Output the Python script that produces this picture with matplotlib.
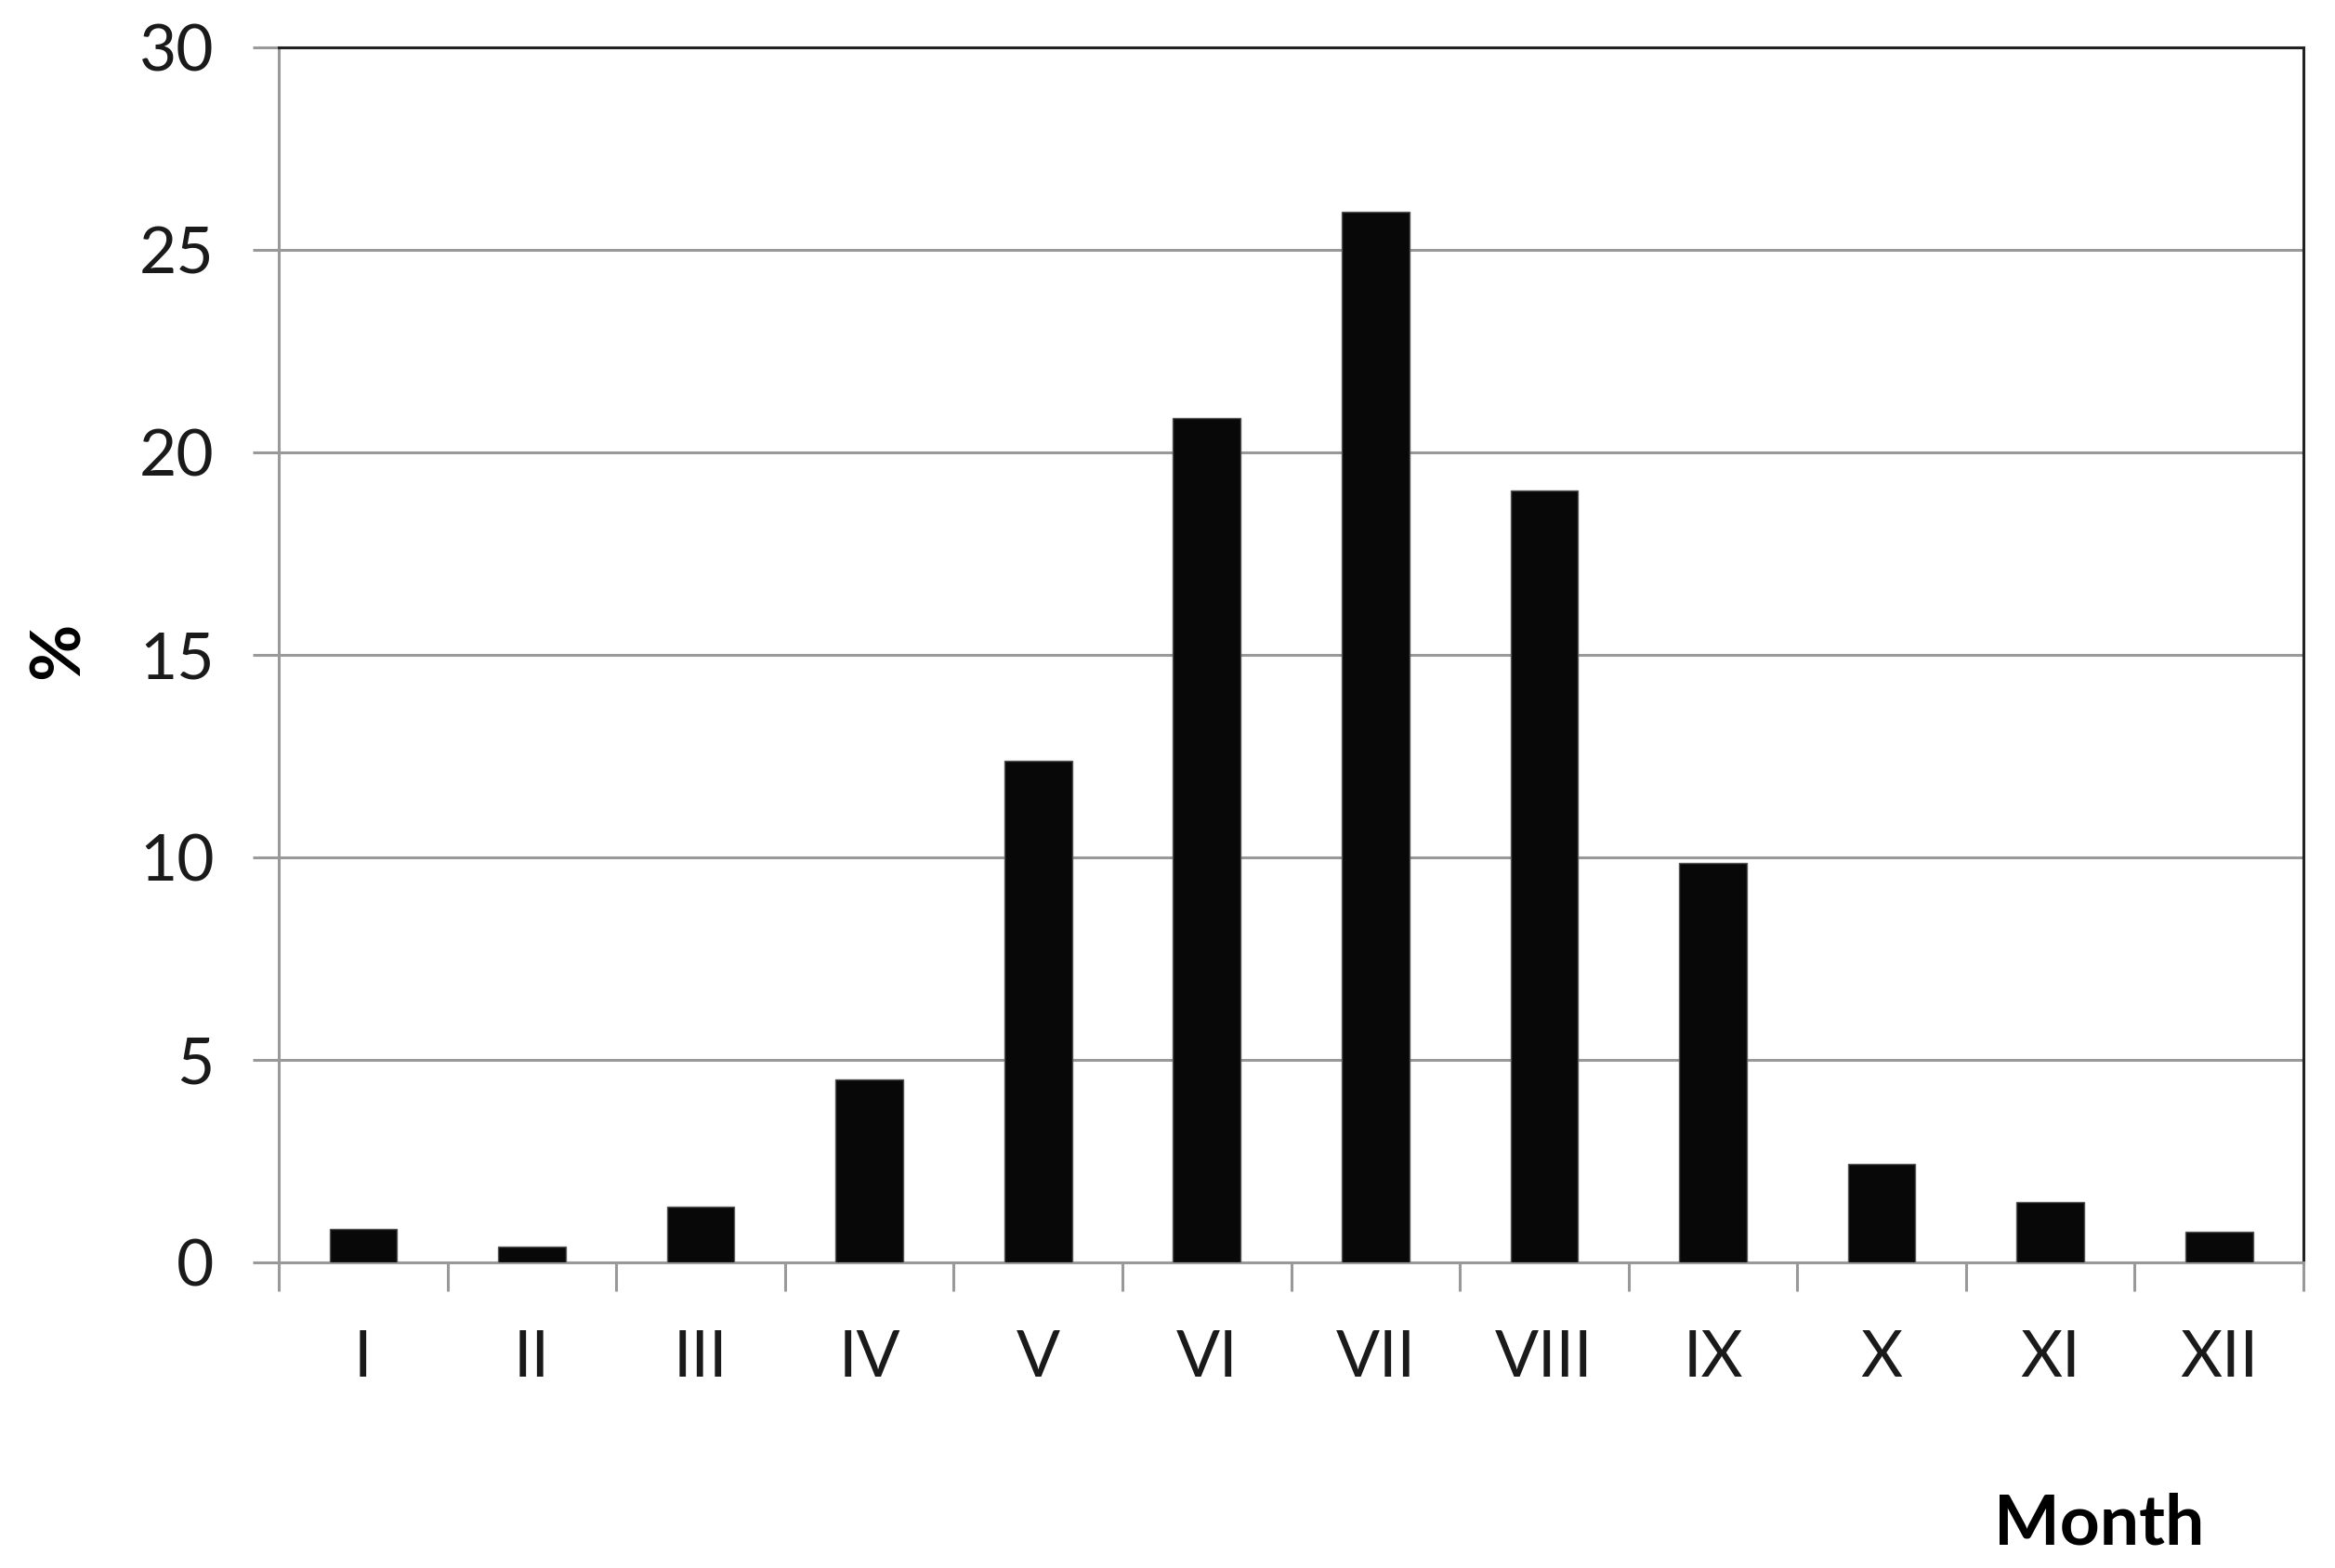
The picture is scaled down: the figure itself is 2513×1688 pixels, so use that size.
import numpy as np
import matplotlib
matplotlib.use("Agg")
import matplotlib.pyplot as plt

months = ["I", "II", "III", "IV", "V", "VI", "VII", "VIII", "IX", "X", "XI", "XII"]
percent = [0.83, 0.40, 1.38, 4.52, 12.38, 20.84, 25.93, 19.06, 9.86, 2.44, 1.48, 0.76]
yticks = [0, 5, 10, 15, 20, 25, 30]

plt.rcParams['font.family'] = ['Lato', 'DejaVu Sans']

fig = plt.figure(figsize=(25.13, 16.88), dpi=100)
ax = fig.add_axes([0.1194, 0.1949, 0.8671, 0.7751])

x = np.arange(len(months))
ax.bar(x, percent, width=0.4, color='#080808', edgecolor='#555555', linewidth=1, zorder=3)

ax.set_xlim(-0.5, len(months) - 0.5)
ax.set_ylim(0, 30)
ax.set_yticks(yticks)
ax.set_yticklabels([str(v) for v in yticks], fontsize=50, color='#1a1a1a')
ax.yaxis.grid(True, color='#999999', linewidth=2.2, zorder=0)

# category labels centred, tick marks at the boundaries
ax.set_xticks(np.arange(-0.5, len(months), 1.0))
ax.set_xticklabels([])
ax.set_xticks(x, minor=True)
ax.set_xticklabels(months, minor=True, fontsize=50, color='#1a1a1a')
ax.tick_params(axis='x', which='major', length=22, width=2.2, color='#999999', direction='out')
ax.tick_params(axis='x', which='minor', length=0, pad=52)
ax.tick_params(axis='y', length=20, width=2.2, color='#999999', direction='out', pad=30)

ax.spines['left'].set_color('#999999')
ax.spines['bottom'].set_color('#999999')
ax.spines['left'].set_linewidth(2.2)
ax.spines['bottom'].set_linewidth(2.2)
ax.spines['top'].set_color('#222222')
ax.spines['right'].set_color('#222222')
ax.spines['top'].set_linewidth(2.2)
ax.spines['right'].set_linewidth(2.2)

fig.text(0.025, 0.585, "%", rotation=90, fontsize=54, fontweight='bold', ha='center', va='center')
fig.text(0.899, 0.028, "Month", fontsize=54, fontweight='bold', ha='center', va='center')

fig.savefig("out.png", dpi=100)
